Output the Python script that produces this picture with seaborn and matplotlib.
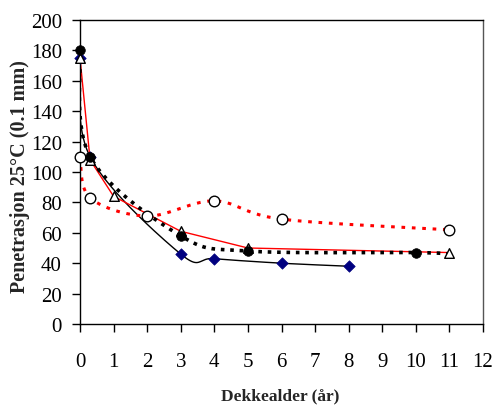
import numpy as np
import pandas as pd
import matplotlib
matplotlib.use("Agg")
import matplotlib.pyplot as plt
import seaborn as sns

# ---- data ----
circ_fill_x = [0, 0.3, 3, 5, 10]
circ_fill_y = [180, 110, 58, 48, 47]
dotted_x = [0, 0.3, 3, 5, 10, 11]          # black dotted line
dotted_y = [180, 110, 58, 48, 47, 46]

circ_open_x = [0, 0.3, 2, 4, 6, 11]
circ_open_y = [110, 83, 71, 81, 69, 62]

tri_x = [0, 0.3, 1, 3, 5, 11]
tri_y = [175, 108, 84, 61, 50, 47]

dia_x = [0, 0.3, 3, 4, 6, 8]
dia_y = [175, 110, 46, 43, 40, 38]

x_ticks = list(range(0, 13))
y_ticks = list(range(0, 201, 20))


def smooth(xs, ys, n=40):
    """Excel-like smoothed line (Catmull-Rom / Bezier through the points)."""
    P = np.column_stack([xs, ys]).astype(float)
    m = len(P)
    out = []
    for i in range(m - 1):
        p0 = P[max(i - 1, 0)]
        p1 = P[i]
        p2 = P[i + 1]
        p3 = P[min(i + 2, m - 1)]
        b1 = p1 + (p2 - p0) / 6.0
        b2 = p2 - (p3 - p1) / 6.0
        t = np.linspace(0, 1, n)[:, None]
        seg = ((1 - t) ** 3) * p1 + 3 * ((1 - t) ** 2) * t * b1 + 3 * (1 - t) * t ** 2 * b2 + t ** 3 * p2
        out.append(seg if i == 0 else seg[1:])
    s = np.vstack(out)
    return pd.DataFrame({"x": s[:, 0], "y": s[:, 1]})


sns.set_style("ticks")
plt.rcParams["font.family"] = ["Liberation Serif", "DejaVu Serif"]

fig = plt.figure(figsize=(4.96, 4.10), dpi=100)
ax = fig.add_axes([80 / 496, 85 / 410, 403 / 496, 304 / 410])

# lines
sns.lineplot(data=smooth(dia_x, dia_y), x="x", y="y", sort=False, ax=ax,
             color="black", lw=1.0, estimator=None, zorder=2)
sns.lineplot(data=pd.DataFrame({"x": tri_x, "y": tri_y}), x="x", y="y", sort=False, ax=ax,
             color="red", lw=1.0, estimator=None, zorder=2)
sns.lineplot(data=smooth(circ_open_x, circ_open_y), x="x", y="y", sort=False, ax=ax,
             color="red", lw=2.2, estimator=None, zorder=2)
ax.lines[-1].set_dashes([1.2, 2.2])
sns.lineplot(data=smooth(dotted_x, dotted_y), x="x", y="y", sort=False, ax=ax,
             color="black", lw=2.6, estimator=None, zorder=2)
ax.lines[-1].set_dashes([1.0, 1.6])

# markers
kw = dict(ax=ax, clip_on=False, legend=False)
sns.scatterplot(x=dia_x, y=dia_y, marker="D", s=34, color="#000080",
                edgecolor="#000080", linewidth=0.5, zorder=3, **kw)
sns.scatterplot(x=circ_open_x, y=circ_open_y, marker="o", s=58, color="white",
                edgecolor="black", linewidth=1.0, zorder=4, **kw)
sns.scatterplot(x=tri_x, y=tri_y, marker="^", s=48, color="white",
                edgecolor="black", linewidth=1.0, zorder=5, **kw)
sns.scatterplot(x=circ_fill_x, y=circ_fill_y, marker="o", s=48, color="black",
                edgecolor="black", linewidth=0.5, zorder=6, **kw)

ax.set_xlim(0, 12)
ax.set_ylim(0, 200)
ax.set_xticks(x_ticks)
ax.set_yticks(y_ticks)
ax.tick_params(axis="both", direction="out", length=6, width=1.0, labelsize=15,
               colors="black")
ax.tick_params(axis="y", pad=7)
ax.tick_params(axis="x", pad=14)
for s in ax.spines.values():
    s.set_visible(True)
    s.set_linewidth(1.0)
    s.set_color("black")
ax.spines["right"].set_color("#555555")

ax.set_xlabel("Dekkealder (år)", fontsize=12.5, fontweight="bold")
ax.xaxis.set_label_coords(0.496, -0.21)
ax.set_ylabel("Penetrasjon 25°C (0.1 mm)", fontsize=14.5, fontweight="bold")
ax.yaxis.set_label_coords(-0.124, 0.487)

fig.savefig("out.png", dpi=100)
